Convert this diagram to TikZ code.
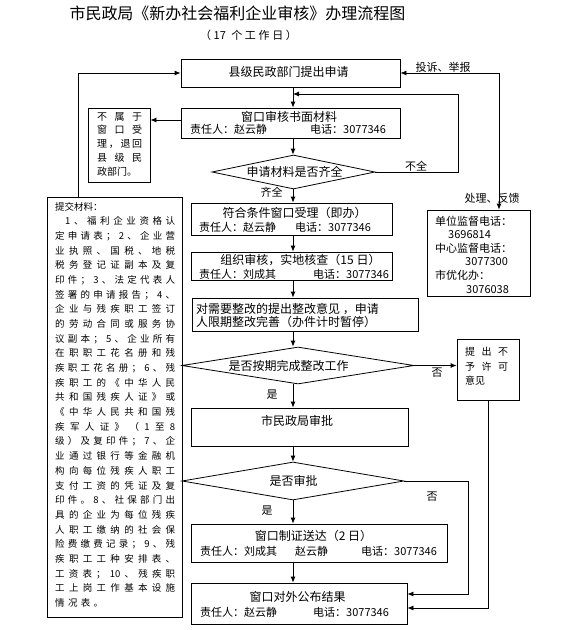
\documentclass[tikz,border=0pt]{standalone}
\usepackage{fontspec}
\setmainfont{Noto Sans CJK SC}
\usetikzlibrary{arrows.meta,shapes.geometric,fit}
\def\spr#1#2{\hbox to #1{\sprA#2\relax}}
\def\sprA#1{#1\sprB}
\def\sprB#1{\ifx\relax#1\else\hfill#1\expandafter\sprB\fi}
\tikzset{
 box/.style={draw, line width=0.8pt, inner sep=0pt, rectangle},
 dia/.style={draw, line width=0.8pt, diamond, inner sep=0pt},
 t12/.style={inner sep=0pt, font=\fontsize{12}{14}\selectfont},
 t11/.style={inner sep=0pt, font=\fontsize{11}{13}\selectfont},
 ln/.style={line width=0.8pt},
 arr/.style={line width=0.8pt, -{Latex[length=6pt,width=5pt]}},
}
\begin{document}
\begin{tikzpicture}[x=1pt,y=-1pt]
\useasboundingbox (0,0) rectangle (580,630);
\fill[white] (0,0) rectangle (580,630);
\coordinate (spine) at (293,0);
\coordinate (lcol) at (78,0);
\coordinate (rcol) at (499,0);
\coordinate (nbrow) at (0,120);
\coordinate (j1) at (293,94);
\coordinate (rt1) at (458,94);
\coordinate (r2) at (468,594);
\coordinate (r3) at (0,608);

\node[inner sep=0pt, font=\fontsize{16}{18}\selectfont] (title) at (237.5,13) {市民政局《新办社会福利企业审核》办理流程图};
\node[inner sep=0pt, font=\fontsize{11}{13}\selectfont] (sub) at (248.5,35) {\hbox to 97pt{（\hfill 17\hfill\hfill 个\hfill 工\hfill 作\hfill 日\hfill ）}};

% boxes
\node[box, fit={(181,59) (400,87)}] (n1) {};
\node[t12] (n1t) at (288.5,72) {县级民政部门提出申请};

\node[box, fit={(181,108) (400,138)}] (n2) {};
\node[t12] (n2t) at (289,117) {窗口审核书面材料};
\node[t11, anchor=west] (n2p) at (190,129) {责任人：赵云静};
\node[t11, anchor=west] (n2q) at (310,129) {电话：3077346};

\node[box, fit={(88,108) (150,182)}] (nb) {};
\node[inner sep=0pt, font=\fontsize{10}{13.75}\selectfont, align=left, anchor=north west] (nbt) at (97,112) {\spr{45pt}{不属于}\\\spr{45pt}{窗口受}\\\spr{45pt}{理，退回}\\\spr{45pt}{县级民}\\政部门。};

\node[dia, minimum width=163pt, minimum height=34pt] (d1) at (293.5,172) {};
\node[t12] (d1t) at (294.5,172) {申请材料是否齐全};

\node[box, fit={(191,203) (392,235)}] (n3) {};
\node[t12] (n3t) at (294.5,213) {符合条件窗口受理（即办）};
\node[t11, anchor=west] (n3p) at (199,227) {责任人：赵云静};
\node[t11, anchor=west] (n3q) at (295,227) {电话：3077346};

\node[box, fit={(191,252) (392,280)}] (n4) {};
\node[t12] (n4t) at (300.5,260) {组织审核，实地核查（15 日）};
\node[t11, anchor=west] (n4p) at (199,274) {责任人：刘成其};
\node[t11, anchor=west] (n4q) at (313,274) {电话：3077346};

\node[box, fit={(192,298) (418,331)}] (n5) {};
\node[t12, anchor=west] (n5t) at (196,309) {对需要整改的提出整改意见 ，申请};
\node[t12, anchor=west] (n5u) at (196,322) {人限期整改完善（办件计时暂停）};

\node[dia, minimum width=232pt, minimum height=37pt] (d2) at (298,365.5) {};
\node[t12] (d2t) at (288.5,366) {是否按期完成整改工作};

\node[box, fit={(457,339) (519,400)}] (nno) {};
\node[inner sep=0pt, font=\fontsize{10}{14.5}\selectfont, align=left, anchor=north west] (nnot) at (465,347) {\spr{43pt}{提出不}\\\spr{43pt}{予许可}\\意见};

\node[box, fit={(191,408) (408,446)}] (n6) {};
\node[t12] (n6t) at (297,421) {市民政局审批};

\node[dia, minimum width=222pt, minimum height=38pt] (d3) at (293,481) {};
\node[t12] (d3t) at (293.5,481) {是否审批};

\node[box, fit={(191,524) (447,562)}] (n7) {};
\node[t12] (n7t) at (313.5,536) {窗口制证送达（2 日）};
\node[t11, anchor=west] (n7p) at (200,551) {责任人：刘成其};
\node[t11, anchor=west] (n7r) at (295,551) {赵云静};
\node[t11, anchor=west] (n7q) at (361,551) {电话：3077346};

\node[box, fit={(191,583) (407,624)}] (n8) {};
\node[t12] (n8t) at (297.5,597) {窗口对外公布结果};
\node[t11, anchor=west] (n8p) at (200,612) {责任人：赵云静};
\node[t11, anchor=west] (n8q) at (313,612) {电话：3077346};

\node[box, fit={(47,197) (182,617)}] (mat) {};
\node[inner sep=0pt, font=\fontsize{9.5}{14.67}\selectfont, align=left, anchor=north west] (matt) at (55,202) {提交材料：\\
\hspace*{10pt}\spr{110pt}{1、福利企业资格认}\\
\spr{120pt}{定申请表；2、企业营}\\
\spr{120pt}{业执照、国税、地税}\\
\spr{120pt}{税务登记证副本及复}\\
\spr{120pt}{印件；3、法定代表人}\\
\spr{120pt}{签署的申请报告；4、}\\
\spr{120pt}{企业与残疾职工签订}\\
\spr{120pt}{的劳动合同或服务协}\\
\spr{120pt}{议副本；5、企业所有}\\
\spr{120pt}{在职职工花名册和残}\\
\spr{120pt}{疾职工花名册；6、残}\\
\spr{120pt}{疾职工的《中华人民}\\
\spr{120pt}{共和国残疾人证》或}\\
\spr{120pt}{《中华人民共和国残}\\
\spr{120pt}{疾军人证》（1至8}\\
\spr{120pt}{级）及复印件；7、企}\\
\spr{120pt}{业通过银行等金融机}\\
\spr{120pt}{构向每位残疾人职工}\\
\spr{120pt}{支付工资的凭证及复}\\
\spr{120pt}{印件。8、社保部门出}\\
\spr{120pt}{具的企业为每位残疾}\\
\spr{120pt}{人职工缴纳的社会保}\\
\spr{120pt}{险费缴费记录；9、残}\\
\spr{120pt}{疾职工工种安排表、}\\
\spr{120pt}{工资表；{10}、残疾职}\\
\spr{120pt}{工上岗工作基本设施}\\
\spr{48pt}{情况表。}};

\node[box, fit={(427,210) (530,296)}] (sup) {};
\node[inner sep=0pt, font=\fontsize{11}{13.6}\selectfont, align=left, anchor=north west] (supt) at (435,215.5) {单位监督电话：\\\hspace*{13pt}3696814\\中心监督电话：\\\hspace*{30pt}3077300\\市优化办：\\\hspace*{31pt}3076038};

% labels
\node[t11] (lb1) at (416,166) {不全};
\node[t11] (lb2) at (271.5,192) {齐全};
\node[t11] (lb3) at (443,67) {投诉、举报};
\node[t11] (lb4) at (492,198) {处理、反馈};
\node[t11] (lb5) at (437,373) {否};
\node[t11] (lb6) at (272,395) {是};
\node[t11] (lb7) at (432,497) {否};
\node[t11] (lb8) at (267,511) {是};

% connectors
\draw[arr] (n1.south -| spine) -- (n2.north -| spine);
\draw[arr] (n2.south -| spine) -- (d1.north -| spine);
\draw[arr] (d1.south -| spine) -- (n3.north -| spine);
\draw[arr] (n3.south -| spine) -- (n4.north -| spine);
\draw[arr] (n4.south -| spine) -- (n5.north -| spine);
\draw[arr] (n5.south -| spine) -- (d2.north -| spine);
\draw[arr] (d2.south -| spine) -- (n6.north -| spine);
\draw[arr] (n6.south -| spine) -- (d3.north -| spine);
\draw[arr] (d3.south -| spine) -- (n7.north -| spine);
\draw[arr] (n7.south -| spine) -- (n8.north -| spine);
\draw[arr] (d1.east) -| (rt1) -- (j1);
\draw[arr] (n2.west |- nbrow) -- (nb.east |- nbrow);
\draw[arr] (mat.north -| lcol) |- (n1.west);
\draw[ln, {Latex[length=6pt,width=5pt]}-{Latex[length=6pt,width=5pt]}] (n1.east) -| (sup.north -| rcol);
\draw[arr] (d2.east) -- (nno.west |- d2.east);
\draw[arr] (d3.east) -| (r2) -- (r2 -| n8.east);
\draw[arr] (nno.south) |- (n8.east |- r3);
\end{tikzpicture}
\end{document}
